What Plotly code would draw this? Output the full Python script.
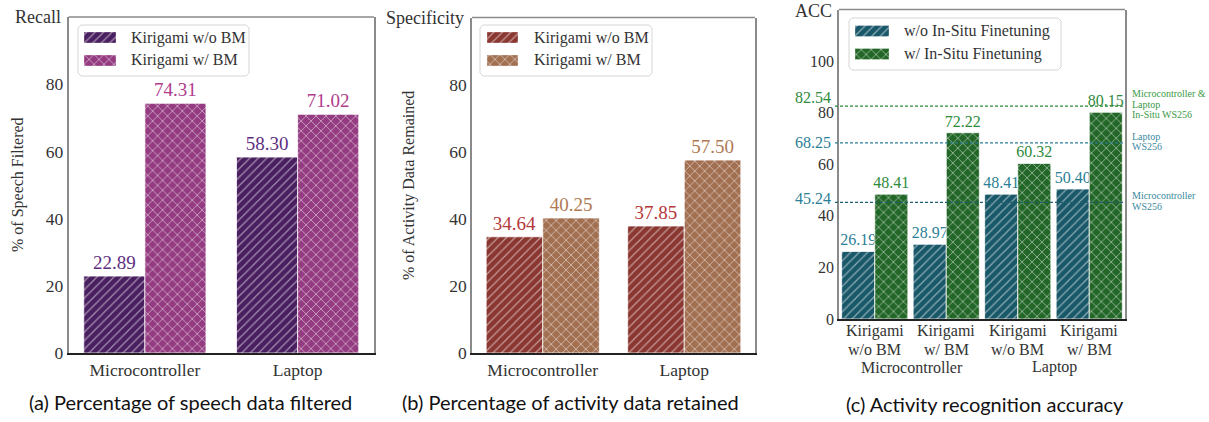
import plotly.graph_objects as go

W, H = 1209, 422
SERIF = "Liberation Serif"
SANS = "Lato"

# ---------------- data ----------------
devices = ["Microcontroller", "Laptop"]
recall_wo_bm = [22.89, 58.30]
recall_w_bm = [74.31, 71.02]
spec_wo_bm = [34.64, 37.85]
spec_w_bm = [40.25, 57.50]

acc_categories = ["MC w/o BM", "MC w/ BM", "LP w/o BM", "LP w/ BM"]
acc_tick_line1 = ["Kirigami", "Kirigami", "Kirigami", "Kirigami"]
acc_tick_line2 = ["w/o BM", "w/ BM", "w/o BM", "w/ BM"]
acc_wo_insitu = [26.19, 28.97, 48.41, 50.40]
acc_w_insitu = [48.41, 72.22, 60.32, 80.15]
ref_insitu_ws256 = 82.54
ref_laptop_ws256 = 68.25
ref_mc_ws256 = 45.24

pct_ticks = [0, 20, 40, 60, 80]
acc_ticks = [0, 20, 40, 60, 80, 100]

# ---------------- styles ----------------
C = {
    "a0": ("#4a1f60", "#5e2f80"), "a1": ("#943b81", "#b03c8e"),
    "b0": ("#8a3731", "#b5373a"), "b1": ("#a26f51", "#b07a55"),
    "c0": ("#195869", "#2b7f96"), "c1": ("#226727", "#2e8b3c"),
}

def pattern(shape):
    if shape == "/":
        return dict(shape="/", fgcolor="white", size=6, solidity=0.2, fillmode="overlay")
    return dict(shape="x", fgcolor="white", size=7, solidity=0.25, fillmode="overlay")

def px_x(v):
    return v / W

def px_y(v):
    return 1 - v / H

def bar(x, y, key, shape, xa, ya, width, offset, fsize):
    color, textcolor = C[key]
    return go.Bar(
        x=x, y=y, xaxis=xa, yaxis=ya, showlegend=False,
        width=width, offset=offset,
        marker=dict(color=color, line=dict(color="rgba(255,255,255,0.75)", width=1), pattern=pattern(shape)),
        text=[f"{v:.2f}" for v in y], textposition="outside",
        textfont=dict(color=textcolor, size=fsize, family=SERIF),
        cliponaxis=False, constraintext="none", hoverinfo="skip",
    )

fig = go.Figure()
fig.add_trace(bar(devices, recall_wo_bm, "a0", "/", "x", "y", 0.4, -0.4, 19))
fig.add_trace(bar(devices, recall_w_bm, "a1", "x", "x", "y", 0.4, 0.0, 19))
fig.add_trace(bar(devices, spec_wo_bm, "b0", "/", "x2", "y2", 0.4, -0.4, 19))
fig.add_trace(bar(devices, spec_w_bm, "b1", "x", "x2", "y2", 0.4, 0.0, 19))
fig.add_trace(bar(acc_categories, acc_wo_insitu, "c0", "/", "x3", "y3", 0.463, -0.463, 16))
fig.add_trace(bar(acc_categories, acc_w_insitu, "c1", "x", "x3", "y3", 0.463, 0.0, 16))

dom = {
    1: ([px_x(68.5), px_x(374)], [px_y(353), px_y(17)]),
    2: ([px_x(472), px_x(755)], [px_y(353), px_y(17.5)]),
    3: ([px_x(839), px_x(1125)], [px_y(319), px_y(9.5)]),
}

tickfont = dict(family=SERIF, size=17.5, color="#333333")
tickfont3 = dict(family=SERIF, size=16, color="#333333")
common_x = dict(type="category", showline=True, linecolor="#222222", linewidth=1.5,
                ticks="", showgrid=False, zeroline=False, automargin=False)
common_y = dict(showline=True, linecolor="#8a8a8a", linewidth=1.5, mirror=True,
                ticks="", showgrid=False, zeroline=False, automargin=False)

fig.update_layout(
    xaxis=dict(domain=dom[1][0], anchor="y", range=[-0.5, 1.5], tickfont=tickfont, **common_x),
    yaxis=dict(domain=dom[1][1], anchor="x", range=[0, 100], tickvals=pct_ticks, tickfont=tickfont, **common_y),
    xaxis2=dict(domain=dom[2][0], anchor="y2", range=[-0.5, 1.5], tickfont=tickfont, **common_x),
    yaxis2=dict(domain=dom[2][1], anchor="x2", range=[0, 100], tickvals=pct_ticks, tickfont=tickfont, **common_y),
    xaxis3=dict(domain=dom[3][0], anchor="y3", range=[-0.5, 3.5], showticklabels=False, **common_x),
    yaxis3=dict(domain=dom[3][1], anchor="x3", range=[0, 120], tickvals=acc_ticks, tickfont=tickfont3, **common_y),
    # pixel overlay used for the hand-drawn legends
    xaxis4=dict(domain=[0, 1], anchor="y4", range=[0, W], visible=False, fixedrange=True),
    yaxis4=dict(domain=[0, 1], anchor="x4", range=[H, 0], visible=False, fixedrange=True),
)

# ---------------- custom legends (wide hatched swatches) ----------------
legend_specs = [
    ((78, 25, 249, 76), 84, 116, 129, (37.5, 60.5), 16,
     [("Kirigami w/o BM", "a0", "/"), ("Kirigami w/ BM", "a1", "x")]),
    ((480, 25, 652, 76), 487, 518, 532, (37.5, 60.5), 16,
     [("Kirigami w/o BM", "b0", "/"), ("Kirigami w/ BM", "b1", "x")]),
    ((849, 18, 1061, 70), 855, 889, 902, (31, 54), 16,
     [("w/o In-Situ Finetuning", "c0", "/"), ("w/ In-Situ Finetuning", "c1", "x")]),
]

ann = []
def A(text, x, y, size, color="#333333", family=SERIF, xanchor="center", yanchor="middle", angle=0,
      xref="paper"):
    ann.append(dict(text=text, x=(px_x(x) if xref == "paper" else x), y=px_y(y), xref=xref, yref="paper",
                    showarrow=False, font=dict(family=family, size=size, color=color),
                    xanchor=xanchor, yanchor=yanchor, textangle=angle))

def rounded_rect(x0, y0, x1, y1, r=3):
    xs = [x0 + r, x1 - r, x1, x1, x1 - r, x0 + r, x0, x0, x0 + r]
    ys = [y0, y0, y0 + r, y1 - r, y1, y1, y1 - r, y0 + r, y0]
    return xs, ys

for (bx0, by0, bx1, by1), sx0, sx1, tx, rows, fs, entries in legend_specs:
    xs, ys = rounded_rect(bx0, by0, bx1, by1)
    fig.add_trace(go.Scatter(x=xs, y=ys, xaxis="x4", yaxis="y4", mode="lines", fill="toself",
                             fillcolor="white", line=dict(color="#d6d6d6", width=1),
                             showlegend=False, hoverinfo="skip"))
    for (label, key, shape), yc in zip(entries, rows):
        color = C[key][0]
        fig.add_trace(go.Scatter(x=[sx0, sx1, sx1, sx0, sx0], y=[yc - 5.5, yc - 5.5, yc + 5.5, yc + 5.5, yc - 5.5],
                                 xaxis="x4", yaxis="y4", mode="lines", fill="toself",
                                 fillcolor=color, fillpattern=pattern(shape),
                                 line=dict(color="rgba(255,255,255,0.6)", width=0.5),
                                 showlegend=False, hoverinfo="skip"))
        A(label, tx, yc, fs, xanchor="left")

# ---------------- shapes ----------------
shapes = []
for k in (1, 2, 3):
    xd, yd = dom[k]
    shapes.append(dict(type="line", xref="paper", yref="paper", x0=xd[0], x1=xd[1], y0=yd[1], y1=yd[1],
                       line=dict(color="#8a8a8a", width=1.5)))
for val, col in ((ref_insitu_ws256, "#2a8a36"), (ref_laptop_ws256, "#2b7f96"), (ref_mc_ws256, "#1f5f70")):
    shapes.append(dict(type="line", xref="paper", yref="y3", x0=px_x(835), x1=dom[3][0][1], y0=val, y1=val,
                       line=dict(color=col, width=1.2, dash="3px,2px")))
fig.update_layout(shapes=shapes)

# ---------------- texts ----------------
A("% of Speech Filtered", 18, 185, 16, angle=-90)
A("% of Activity Data Remained", 409, 185, 16, angle=-90)
A("Recall", 63, 17, 18, xanchor="right")
A("Specificity", 466, 18, 18, xanchor="right")
A("ACC", 834, 11, 18, xanchor="right")

A(f"{ref_insitu_ws256:.2f}", 833, 97, 16, color="#2e8b3c", xanchor="right")
A(f"{ref_laptop_ws256:.2f}", 833, 142, 16, color="#2b7f96", xanchor="right")
A(f"{ref_mc_ws256:.2f}", 833, 199, 16, color="#2b7f96", xanchor="right")

A("Microcontroller &", 1130, 93, 10, color="#3a9a48", xanchor="left")
A("Laptop", 1130, 104, 10, color="#3a9a48", xanchor="left")
A("In-Situ WS256", 1130, 114.5, 10, color="#3a9a48", xanchor="left")
A("Laptop", 1130, 136, 10, color="#3a8aa0", xanchor="left")
A("WS256", 1130, 146.5, 10, color="#3a8aa0", xanchor="left")
A("Microcontroller", 1130, 195, 10, color="#3a8aa0", xanchor="left")
A("WS256", 1130, 206, 10, color="#3a8aa0", xanchor="left")

for cat, l1, l2 in zip(acc_categories, acc_tick_line1, acc_tick_line2):
    A(l1, cat, 331, 16, xref="x3")
    A(l2, cat, 349, 16, xref="x3")
A(devices[0], 911.5, 367, 16)
A(devices[1], 1054, 367, 16)

A("(a) Percentage of speech data filtered", 190, 402, 20, color="#111111", family=SANS)
A("(b) Percentage of activity data retained", 570, 402, 20, color="#111111", family=SANS)
A("(c) Activity recognition accuracy", 985, 404, 20, color="#111111", family=SANS)

fig.update_layout(
    annotations=ann,
    width=W, height=H, autosize=False, margin=dict(l=0, r=0, t=0, b=0, pad=0),
    paper_bgcolor="white", plot_bgcolor="rgba(0,0,0,0)",
    barmode="group", showlegend=False,
    font=dict(family=SERIF, color="#333333"),
)

fig.write_html("out.html", config={"responsive": False})
